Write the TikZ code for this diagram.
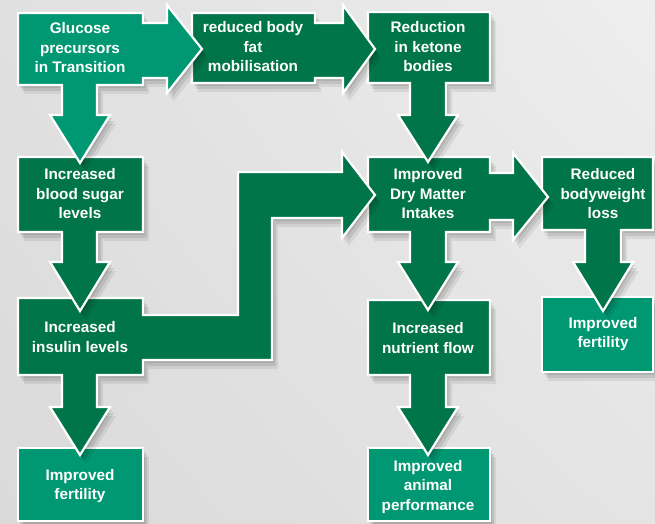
\documentclass[tikz,border=0pt]{standalone}
\usepackage{fontspec}
\setmainfont{Liberation Sans}
\usetikzlibrary{shadows,shadings}
\definecolor{dkgreen}{RGB}{0,117,74}
\definecolor{ltgreen}{RGB}{0,152,114}
\definecolor{bgA}{RGB}{224,224,224}
\definecolor{bgB}{RGB}{238,238,238}
\definecolor{bgC}{RGB}{218,218,218}
\definecolor{bgD}{RGB}{228,228,228}
\tikzset{
 flow/.style={draw=white, line width=2.2pt, line join=miter, miter limit=10,
   general shadow={fill=black, opacity=.09, shadow xshift=2pt, shadow yshift=-3pt},
   general shadow={fill=black, opacity=.09, shadow xshift=4pt, shadow yshift=-6pt},
   general shadow={fill=black, opacity=.07, shadow xshift=6pt, shadow yshift=-9pt}},
 dark/.style={flow, fill=dkgreen},
 light/.style={flow, fill=ltgreen},
 txt/.style={text=white, font=\fontsize{15.3}{19.5}\selectfont\bfseries, align=center, inner sep=0pt}
}
\begin{document}
\begin{tikzpicture}[x=1pt, y=-1pt]
\useasboundingbox (0,0) rectangle (655,524);
\shade[upper left=bgA, upper right=bgB, lower left=bgC, lower right=bgD] (0,0) rectangle (655,524);
% terminal boxes
\path[light] (18,448) -- (143,448) -- (143,521) -- (18,521) -- cycle;
\path[light] (368,448) -- (490,448) -- (490,521) -- (368,521) -- cycle;
\path[light] (542,297) -- (653,297) -- (653,372) -- (542,372) -- cycle;
% nutrient flow
\path[dark] (368,300) -- (490,300) -- (490,375) -- (446,375) -- (446,407) -- (458,407) -- (428,455) -- (398,407) -- (410,407) -- (410,375) -- (368,375) -- cycle;
% reduced bodyweight loss
\path[dark] (542,157) -- (653,157) -- (653,230) -- (621,230) -- (621,262) -- (633,262) -- (603,311) -- (573,262) -- (585,262) -- (585,230) -- (542,230) -- cycle;
% DMI
\path[dark] (368,157) -- (490,157) -- (490,173) -- (513,173) -- (513,153) -- (548,197) -- (513,240) -- (513,220) -- (490,220) -- (490,232) -- (446,232) -- (446,262) -- (458,262) -- (428,310) -- (398,262) -- (410,262) -- (410,232) -- (368,232) -- cycle;
% insulin with elbow
\path[dark] (18,298) -- (143,298) -- (143,315) -- (238,315) -- (238,172) -- (342,172) -- (342,152) -- (375,195) -- (342,238) -- (342,218) -- (272,218) -- (272,360) -- (143,360) -- (143,375) -- (97,375) -- (97,407) -- (110,407) -- (80,455) -- (50,407) -- (62,407) -- (62,375) -- (18,375) -- cycle;
% blood sugar
\path[dark] (18,157) -- (143,157) -- (143,232) -- (97,232) -- (97,262) -- (110,262) -- (80,311) -- (50,262) -- (62,262) -- (62,232) -- (18,232) -- cycle;
% ketone
\path[dark] (368,12) -- (490,12) -- (490,83) -- (446,83) -- (446,115) -- (458,115) -- (428,162) -- (398,115) -- (410,115) -- (410,83) -- (368,83) -- cycle;
% fat
\path[dark] (192,13) -- (315,13) -- (315,23) -- (343,23) -- (343,5) -- (375,49) -- (343,93) -- (343,78) -- (315,78) -- (315,83) -- (192,83) -- cycle;
% glucose
\path[light] (18,13) -- (143,13) -- (143,23) -- (167,23) -- (167,5) -- (202,49) -- (167,93) -- (167,78) -- (143,78) -- (143,85) -- (97,85) -- (97,115) -- (110,115) -- (80,163) -- (50,115) -- (62,115) -- (62,85) -- (18,85) -- cycle;
% texts
\node[txt] (gluc) at (80,48) {Glucose\\precursors\\in Transition};
\node[txt] (fat) at (253,47) {reduced body\\fat\\mobilisation};
\node[txt] (ket) at (428,47) {Reduction\\in ketone\\bodies};
\node[txt] (sugar) at (80,194) {Increased\\blood sugar\\levels};
\node[txt] (dmi) at (428,194) {Improved\\Dry Matter\\Intakes};
\node[txt] (rbw) at (603,194) {Reduced\\bodyweight\\loss};
\node[txt] (ins) at (80,337) {Increased\\insulin levels};
\node[txt] (nut) at (428,338) {Increased\\nutrient flow};
\node[txt] (fert2) at (603,334) {Improved\\fertility};
\node[txt] (fert1) at (80,486) {Improved\\fertility};
\node[txt] (perf) at (428,487) {Improved\\animal\\performance};
\end{tikzpicture}
\end{document}
